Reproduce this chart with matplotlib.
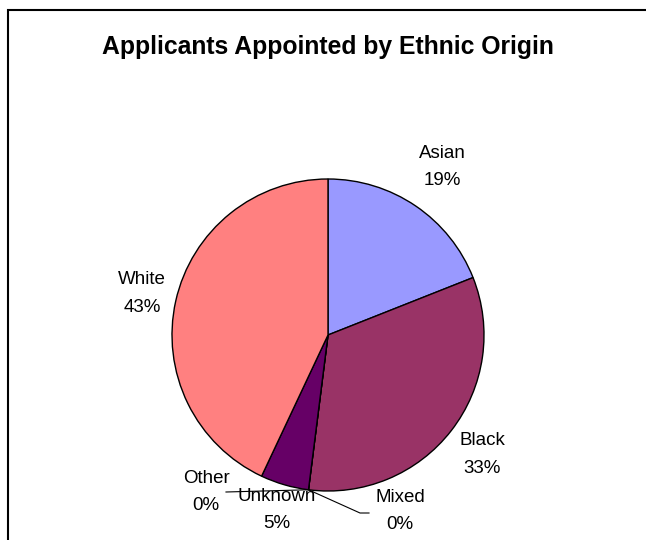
import numpy as np
import matplotlib.pyplot as plt
from matplotlib.patches import Rectangle

plt.rcParams['font.family'] = ['Liberation Sans', 'DejaVu Sans']

origins = ['Asian', 'Black', 'Mixed', 'Other', 'Unknown', 'White']
shares = [19, 33, 0, 0, 5, 43]
colours = ['#9999FF', '#993366', '#CC99FF', '#FFFFCC', '#660066', '#FF8080']

fig = plt.figure(figsize=(6.46, 5.40), dpi=100)
ax = fig.add_axes([0, 0, 1, 1])

ax.pie(shares, colors=colours, startangle=90, counterclock=False,
       wedgeprops=dict(edgecolor='black', linewidth=1.0))

# limits chosen so the unit circle sits at the pixel spot we want
R = 156.0
cx, cy = 328.0, 335.0
ax.set_xlim(-cx / R, (646 - cx) / R)
ax.set_ylim(-(540 - cy) / R, cy / R)
ax.set_aspect('auto')
ax.axis('off')

FS = 13.5
LS = 1.8

# mid angle of each wedge (clockwise from 12 o'clock)
cum = np.cumsum([0] + shares[:-1])
mid = np.deg2rad(90 - 360 * (cum + np.array(shares) / 2) / 100)
edge = np.deg2rad(90 - 360 * cum / 100)

label_dist = {'Asian': 1.30, 'Black': 1.25, 'Unknown': 1.17, 'White': 1.22}
for name, val, a in zip(origins, shares, mid):
    if name in label_dist:
        d = label_dist[name]
        ax.text(d * np.cos(a), d * np.sin(a), f'{name}\n{val}%',
                ha='center', va='center', fontsize=FS, linespacing=LS)

# zero slices get their text pulled out with leader lines
def px(x, y):
    return (x - cx) / R, (cy - y) / R

i_mixed = origins.index('Mixed')
i_other = origins.index('Other')
sx, sy = np.cos(edge[i_mixed]), np.sin(edge[i_mixed])
ex, ey = px(226, 492)
ax.plot([sx, ex], [sy, ey], color='black', lw=0.8)
ax.text(*px(206, 492), f'Other\n{shares[i_other]}%', ha='center', va='center',
        fontsize=FS, linespacing=LS)
m1 = px(360, 513)
m2 = px(369, 513)
ax.plot([sx, m1[0], m2[0]], [sy, m1[1], m2[1]], color='black', lw=0.8)
ax.text(*px(400, 511), f'Mixed\n{shares[i_mixed]}%', ha='center', va='center',
        fontsize=FS, linespacing=LS)

fig.text(328 / 646, 1 - 47 / 540, 'Applicants Appointed by Ethnic Origin',
         ha='center', va='center', fontsize=17.8, fontweight='bold')

fig.patches.append(Rectangle((8 / 646, -0.1), 1.2, 1.1 - 10 / 540,
                             transform=fig.transFigure, fill=False,
                             edgecolor='black', linewidth=1.5))

fig.savefig('out.png', dpi=100)
